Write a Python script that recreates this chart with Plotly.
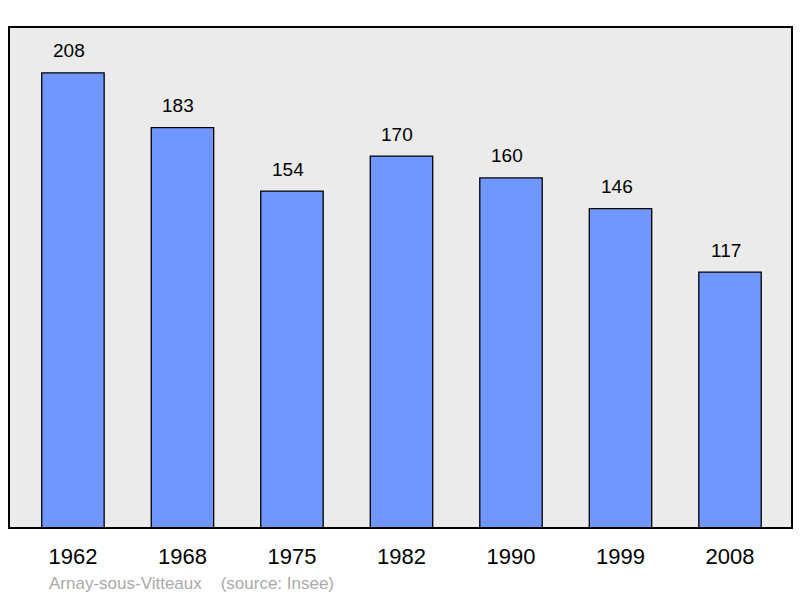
import plotly.graph_objects as go

years = ["1962", "1968", "1975", "1982", "1990", "1999", "2008"]
population = [208, 183, 154, 170, 160, 146, 117]
footer_text = "Arnay-sous-Vitteaux    (source: Insee)"

xpos = list(range(len(years)))
FONT = "Liberation Sans, Arial, sans-serif"

fig = go.Figure()
fig.add_trace(go.Bar(
    x=xpos, y=population, width=0.57,
    marker=dict(color="#7097ff", line=dict(color="#000000", width=1.3)),
    hoverinfo="x+y",
))

for xi, v in zip(xpos, population):
    fig.add_annotation(x=xi, y=v, text=str(v), showarrow=False,
                       yanchor="middle", yshift=22, xshift=-4,
                       font=dict(family=FONT, size=19, color="#000"))

fig.add_annotation(xref="paper", yref="paper", x=(47-9)/783, y=-(583-528)/501,
                   xanchor="left", yanchor="middle", showarrow=False,
                   text=footer_text,
                   font=dict(family=FONT, size=17, color="#aaaaaa"))

fig.add_shape(type="rect", xref="paper", yref="paper", x0=0, y0=0, x1=1, y1=1,
              line=dict(color="#000", width=2), fillcolor="rgba(0,0,0,0)", layer="above")

fig.update_layout(
    width=800, height=598,
    margin=dict(l=9, r=8, t=27, b=70),
    paper_bgcolor="#ffffff", plot_bgcolor="#ebebeb",
    showlegend=False,
    xaxis=dict(range=[-0.584, 6.566], tickmode="array", tickvals=xpos, ticktext=years,
               showgrid=False, zeroline=False, showline=False,
               ticks="outside", ticklen=9, tickcolor="rgba(0,0,0,0)",
               tickfont=dict(family=FONT, size=22, color="#000")),
    yaxis=dict(range=[0, 229], showgrid=False, zeroline=False, showticklabels=False, showline=False),
)

fig.write_html("out.html", config={"displayModeBar": False},
               post_script="document.body.style.margin='0';document.body.style.padding='0';")
